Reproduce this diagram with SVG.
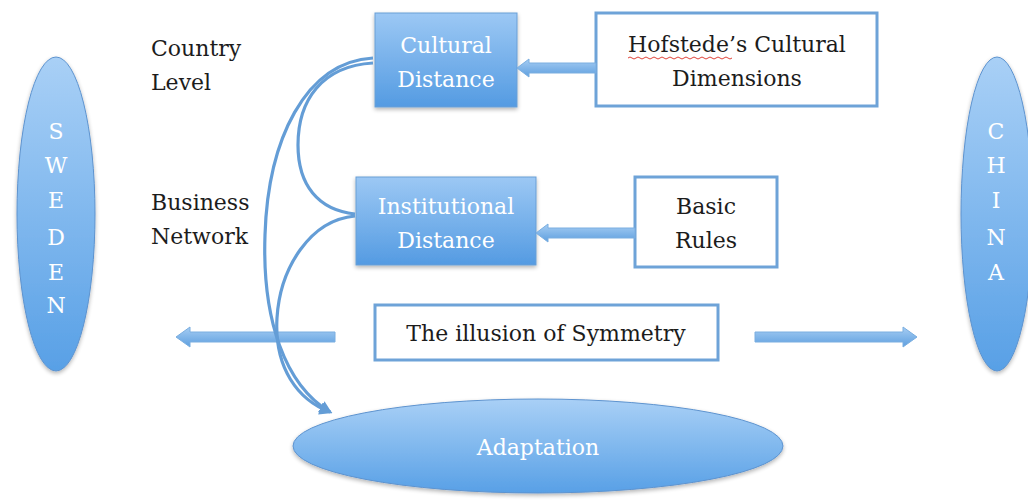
<svg xmlns="http://www.w3.org/2000/svg" width="1028" height="504" viewBox="0 0 1028 504">
  <defs>
    <linearGradient id="boxFill" x1="0" y1="0" x2="0" y2="1">
      <stop offset="0" stop-color="#9cc8f4"/>
      <stop offset="1" stop-color="#549be2"/>
    </linearGradient>
    <linearGradient id="ovalFill" x1="0" y1="0" x2="0" y2="1">
      <stop offset="0" stop-color="#a9d0f6"/>
      <stop offset="1" stop-color="#58a0e6"/>
    </linearGradient>
    <linearGradient id="arrowFill" x1="0" y1="0" x2="0" y2="1">
      <stop offset="0" stop-color="#a6cdf3"/>
      <stop offset="1" stop-color="#5e9fdf"/>
    </linearGradient>
    <filter id="shadow" x="-10%" y="-10%" width="120%" height="130%">
      <feGaussianBlur in="SourceAlpha" stdDeviation="2"/>
      <feOffset dy="2" result="b"/>
      <feComponentTransfer><feFuncA type="linear" slope="0.3"/></feComponentTransfer>
      <feMerge><feMergeNode/><feMergeNode in="SourceGraphic"/></feMerge>
    </filter>
    <marker id="tip" viewBox="0 0 10 10" refX="8" refY="5" markerWidth="4" markerHeight="4" orient="auto">
      <path d="M0 0 L10 5 L0 10 z" fill="#649dd6"/>
    </marker>
    <style>
      .lbl { font-family: "DejaVu Serif", "Liberation Serif", serif; font-size: 22px; text-anchor: middle; }
      .white { fill: #ffffff; }
      .dark { fill: #1c1c1c; }
      .side { font-family: "DejaVu Serif", "Liberation Serif", serif; font-size: 22px; fill: #1c1c1c; }
      .blue { fill: url(#boxFill); stroke: #6a9fd6; stroke-width: 1; filter: url(#shadow); }
      .oval { fill: url(#ovalFill); stroke: #5d93cf; stroke-width: 1; filter: url(#shadow); }
      .plain { fill: #ffffff; stroke: #6ea3d8; stroke-width: 3; }
      .block { fill: url(#arrowFill); stroke: #7aaee0; stroke-width: 1; }
      .curve { fill: none; stroke: #649dd6; stroke-width: 3.2; }
    </style>
  </defs>

  <rect width="1028" height="504" fill="#ffffff"/>

  <!-- side labels -->
  <g id="country-level">
    <text class="side" x="151" y="56">Country</text>
    <text class="side" x="151" y="90">Level</text>
  </g>
  <g id="business-network">
    <text class="side" x="151" y="210">Business</text>
    <text class="side" x="151" y="244">Network</text>
  </g>

  <!-- country ovals -->
  <g id="sweden">
    <ellipse class="oval" cx="56" cy="214" rx="39" ry="157"/>
    <text class="lbl white" x="56" y="139">S</text>
    <text class="lbl white" x="56" y="173">W</text>
    <text class="lbl white" x="56" y="208">E</text>
    <text class="lbl white" x="56" y="245">D</text>
    <text class="lbl white" x="56" y="280">E</text>
    <text class="lbl white" x="56" y="313">N</text>
  </g>
  <g id="china">
    <ellipse class="oval" cx="997" cy="214" rx="36" ry="157"/>
    <text class="lbl white" x="996" y="139">C</text>
    <text class="lbl white" x="996" y="173">H</text>
    <text class="lbl white" x="996" y="208">I</text>
    <text class="lbl white" x="996" y="245">N</text>
    <text class="lbl white" x="996" y="280">A</text>
  </g>

  <!-- distance boxes -->
  <g id="cultural-distance">
    <rect class="blue" x="375" y="13" width="142" height="94"/>
    <text class="lbl white" x="446" y="53">Cultural</text>
    <text class="lbl white" x="446" y="87">Distance</text>
  </g>
  <g id="institutional-distance">
    <rect class="blue" x="356" y="177" width="180" height="88"/>
    <text class="lbl white" x="446" y="214">Institutional</text>
    <text class="lbl white" x="446" y="248">Distance</text>
  </g>

  <!-- source boxes -->
  <g id="hofstede">
    <rect class="plain" x="596" y="13" width="281" height="93"/>
    <text class="lbl dark" x="737" y="52">Hofstede’s Cultural</text>
    <path d="M628 58 q2 -2 4 0 t4 0 t4 0 t4 0 t4 0 t4 0 t4 0 t4 0 t4 0 t4 0 t4 0 t4 0 t4 0 t4 0 t4 0 t4 0 t4 0 t4 0 t4 0 t4 0 t4 0 t4 0 t4 0 t4 0 t4 0 t4 0" fill="none" stroke="#e0433a" stroke-width="1"/>
    <text class="lbl dark" x="737" y="86">Dimensions</text>
  </g>
  <g id="basic-rules">
    <rect class="plain" x="635" y="177" width="142" height="90"/>
    <text class="lbl dark" x="706" y="214">Basic</text>
    <text class="lbl dark" x="706" y="248">Rules</text>
  </g>
  <g id="illusion">
    <rect class="plain" x="375" y="305" width="343" height="55"/>
    <text class="lbl dark" x="546" y="341">The illusion of Symmetry</text>
  </g>

  <!-- adaptation oval -->
  <g id="adaptation">
    <ellipse class="oval" cx="538" cy="446" rx="245" ry="47"/>
    <text class="lbl white" x="538" y="455">Adaptation</text>
  </g>

  <!-- connectors -->
  <g id="connectors">
    <!-- block arrows -->
    <path class="block" d="M596 63 L529 63 L529 59 L517 68 L529 77 L529 73 L596 73 z"/>
    <path class="block" d="M635 228 L548 228 L548 224 L536 233 L548 242 L548 238 L635 238 z"/>
    <path class="block" d="M335 332 L190 332 L190 327 L176 337 L190 347 L190 342 L335 342 z"/>
    <path class="block" d="M755 332 L903 332 L903 327 L917 337 L903 347 L903 342 L755 342 z"/>
    <!-- curved links -->
    <path class="curve" d="M373 58 C305 62 268 140 265 235 C262 320 285 385 330 412" marker-end="url(#tip)"/>
    <path class="curve" d="M373 63 C322 66 298 100 298 145 C298 185 318 210 355 214"/>
    <path class="curve" d="M355 216 C310 220 280 268 277 318 C274 368 298 400 330 412" marker-end="url(#tip)"/>
  </g>
</svg>
